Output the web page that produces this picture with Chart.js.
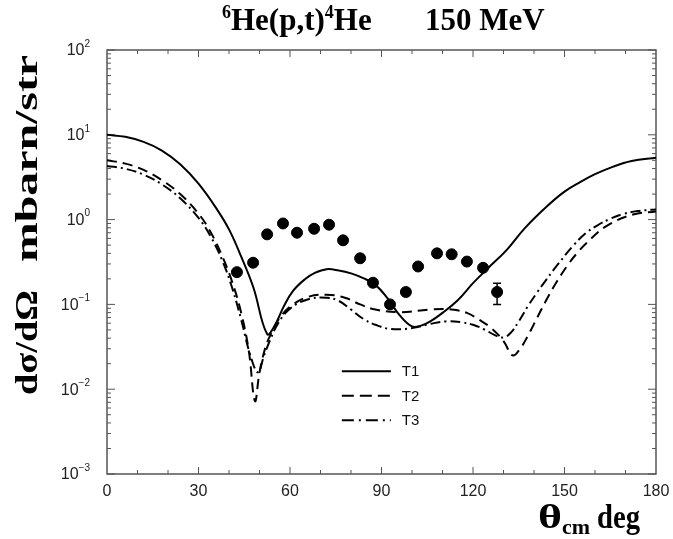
<!DOCTYPE html>
<html>
<head>
<meta charset="utf-8">
<script src="https://cdn.jsdelivr.net/npm/chart.js@4/dist/chart.umd.min.js"></script>
<style>
html, body { margin: 0; padding: 0; background: #fff; }
</style>
</head>
<body>
<canvas id="xsChart" width="673" height="539"></canvas>
<script>
// measured cross section (filled circles)
const dataAngle = [42.6, 47.9, 52.5, 57.7, 62.3, 67.9, 72.8, 77.4, 83.0, 87.2, 92.8, 98.0, 102.0, 108.2, 113.0, 118.0, 123.3, 127.9];
const dataValue = [0.24, 0.31, 0.67, 0.90, 0.70, 0.78, 0.87, 0.57, 0.35, 0.18, 0.10, 0.14, 0.28, 0.40, 0.39, 0.32, 0.27, 0.14];
const dataErrLow = [null, null, null, null, null, null, null, null, null, null, null, null, null, null, null, null, null, 0.10];
const dataErrHigh = [null, null, null, null, null, null, null, null, null, null, null, null, null, null, null, null, null, 0.177];

// T1 (solid)
const t1Angle = [0, 6, 12, 18, 24, 30, 36, 40, 44, 48, 52.5, 55, 58, 61, 65, 68, 72, 76, 80, 84, 88, 92, 96, 100, 103, 106, 110, 115, 120, 125, 131, 137, 144, 150, 155, 160, 166, 172, 180];
const t1Value = [10, 9.46, 8.24, 6.52, 4.49, 2.65, 1.33, 0.766, 0.366, 0.158, 0.0447, 0.0562, 0.0955, 0.1445, 0.1995, 0.234, 0.26, 0.251, 0.232, 0.204, 0.17, 0.1175, 0.0741, 0.055, 0.0562, 0.063, 0.0794, 0.112, 0.178, 0.269, 0.437, 0.794, 1.41, 2.14, 2.75, 3.43, 4.22, 4.9, 5.37];

// T2 (dashed)
const t2Angle = [0, 6, 12, 18, 24, 30, 34, 38, 41, 44, 46.5, 48.5, 50, 52, 54, 57, 61, 66, 72, 78, 83, 88, 96, 106, 113, 118, 122, 126, 130, 133, 135.5, 138, 141, 144, 147.5, 150.8, 154, 157.4, 164, 172.5, 180];
const t2Value = [5.01, 4.57, 3.85, 2.92, 2.0, 1.175, 0.708, 0.355, 0.186, 0.0794, 0.0282, 0.00724, 0.0158, 0.0316, 0.0468, 0.0724, 0.1, 0.123, 0.13, 0.12, 0.1, 0.087, 0.081, 0.087, 0.087, 0.0794, 0.066, 0.0525, 0.037, 0.025, 0.0302, 0.0427, 0.0692, 0.112, 0.186, 0.282, 0.398, 0.537, 0.851, 1.15, 1.245];

// T3 (dash-dot)
const t3Angle = [0, 6, 12, 18, 24, 30, 34, 38, 41, 44, 47, 49.5, 51.5, 53.5, 56, 60, 66, 72, 76, 80, 84, 88, 93, 100, 106, 111, 116, 120, 124, 127, 130, 132.5, 135, 138, 141, 144, 148, 152.8, 157, 160.7, 165, 169, 174, 180];
const t3Value = [4.3, 3.98, 3.39, 2.6, 1.78, 1.047, 0.631, 0.316, 0.158, 0.066, 0.0251, 0.0158, 0.0251, 0.038, 0.0589, 0.0891, 0.115, 0.12, 0.11, 0.087, 0.0676, 0.0575, 0.0513, 0.0525, 0.0589, 0.063, 0.0617, 0.0575, 0.0501, 0.0437, 0.0407, 0.0468, 0.0631, 0.0955, 0.138, 0.195, 0.302, 0.49, 0.692, 0.851, 1.023, 1.16, 1.26, 1.32];

// axis ticks
const xTicks = [0, 30, 60, 90, 120, 150, 180];
const yExponents = [-3, -2, -1, 0, 1, 2];
const legendNames = ['T1', 'T2', 'T3'];

const toPoints = (xs, ys) => xs.map((x, i) => ({ x: x, y: ys[i] }));

const serif = '"Liberation Serif", "Times New Roman", serif';
const sans = '"Liberation Sans", Arial, sans-serif';
const frameColor = '#555';
const dashT2 = [10, 6];
const dashT3 = [10, 4, 2, 4];

// draw text stretched to a given width (left aligned at x)
function fitText(ctx, text, x, y, width) {
    const w = ctx.measureText(text).width;
    ctx.save();
    ctx.translate(x, y);
    ctx.scale(width / w, 1);
    ctx.fillText(text, 0, 0);
    ctx.restore();
}

// frame, inward ticks, labels, titles, error bar and legend
const decorPlugin = {
    id: 'decor',
    beforeDatasetsDraw(chart) {
        const ctx = chart.ctx;
        const a = chart.chartArea;
        const xs = chart.scales.x;
        const ys = chart.scales.y;
        ctx.save();
        ctx.strokeStyle = frameColor;
        ctx.lineWidth = 1.5;
        ctx.strokeRect(a.left, a.top, a.right - a.left, a.bottom - a.top);
        ctx.lineWidth = 1;
        // x ticks every 10 deg
        for (let v = 10; v < 180; v += 10) {
            const px = xs.getPixelForValue(v);
            const len = v % 30 === 0 ? 7 : 4;
            ctx.beginPath();
            ctx.moveTo(px, a.bottom); ctx.lineTo(px, a.bottom - len);
            ctx.moveTo(px, a.top); ctx.lineTo(px, a.top + len);
            ctx.stroke();
        }
        // y log ticks
        yExponents.forEach(e => {
            for (let m = 1; m <= 9; m++) {
                const v = m * Math.pow(10, e);
                if (v >= 100 && m > 1) continue;
                const py = ys.getPixelForValue(v);
                const len = m === 1 ? 8 : 4;
                ctx.beginPath();
                ctx.moveTo(a.left, py); ctx.lineTo(a.left + len, py);
                ctx.moveTo(a.right, py); ctx.lineTo(a.right - len, py);
                ctx.stroke();
            }
        });
        ctx.restore();
    },
    afterDatasetsDraw(chart) {
        const ctx = chart.ctx;
        const a = chart.chartArea;
        const xs = chart.scales.x;
        const ys = chart.scales.y;
        ctx.save();

        // error bars
        ctx.strokeStyle = '#000';
        ctx.lineWidth = 1.5;
        dataAngle.forEach((x, i) => {
            if (dataErrLow[i] == null) return;
            const px = xs.getPixelForValue(x);
            const y1 = ys.getPixelForValue(dataErrLow[i]);
            const y2 = ys.getPixelForValue(dataErrHigh[i]);
            ctx.beginPath();
            ctx.moveTo(px, y1); ctx.lineTo(px, y2);
            ctx.moveTo(px - 4, y1); ctx.lineTo(px + 4, y1);
            ctx.moveTo(px - 4, y2); ctx.lineTo(px + 4, y2);
            ctx.stroke();
        });

        // x tick labels
        ctx.fillStyle = '#222';
        ctx.font = '16px ' + sans;
        ctx.textAlign = 'center';
        ctx.textBaseline = 'top';
        xTicks.forEach(v => ctx.fillText(String(v), xs.getPixelForValue(v), a.bottom + 10));

        // y tick labels 10^n
        ctx.textBaseline = 'middle';
        yExponents.forEach(e => {
            const py = ys.getPixelForValue(Math.pow(10, e));
            const exp = e < 0 ? '\u2212' + (-e) : String(e);
            ctx.font = '10px ' + sans;
            ctx.textAlign = 'left';
            const ew = ctx.measureText(exp).width;
            const right = a.left - 17;
            ctx.fillText(exp, right - ew, py - 6);
            ctx.font = '16px ' + sans;
            ctx.textAlign = 'right';
            ctx.fillText('10', right - ew, py + 1);
        });

        // legend
        const lx = xs.getPixelForValue(77);
        const ly = ys.getPixelForValue(0.0163);
        const dashes = [[], [12, 6], [12, 5, 2, 5]];
        ctx.lineWidth = 2;
        ctx.font = '15px ' + sans;
        ctx.textAlign = 'left';
        legendNames.forEach((name, i) => {
            const y = ly + i * 24.5;
            ctx.setLineDash(dashes[i]);
            ctx.beginPath();
            ctx.moveTo(lx, y); ctx.lineTo(lx + 49, y);
            ctx.stroke();
            ctx.setLineDash([]);
            ctx.fillStyle = '#111';
            ctx.fillText(name, lx + 60, y + 1);
        });

        // title with superscripts
        ctx.fillStyle = '#000';
        ctx.textBaseline = 'alphabetic';
        const big = 'bold 31px ' + serif;
        const small = 'bold 18px ' + serif;
        const parts = [['6', small, -12], ['He(p,t)', big, 0], ['4', small, -12], ['He', big, 0]];
        let tx = 222;
        parts.forEach(p => {
            ctx.font = p[1];
            ctx.fillText(p[0], tx, 30 + p[2]);
            tx += ctx.measureText(p[0]).width;
        });
        ctx.font = big;
        ctx.fillText('150 MeV', 425, 30);

        // y axis title (rotated)
        ctx.save();
        ctx.translate(37, 0);
        ctx.rotate(-Math.PI / 2);
        ctx.font = 'bold 31px ' + serif;
        ctx.textAlign = 'left';
        fitText(ctx, 'd\u03c3/d\u03a9', -395, 0, 105);
        fitText(ctx, 'mbarn/str', -262, 0, 207);
        ctx.restore();

        // x axis title
        ctx.textAlign = 'left';
        ctx.font = 'bold 34px ' + serif;
        fitText(ctx, '\u03b8', 538, 528, 24);
        ctx.font = 'bold 21px ' + serif;
        fitText(ctx, 'cm', 562, 534, 28);
        ctx.font = 'bold 34px ' + serif;
        fitText(ctx, 'deg', 597, 528, 43);

        ctx.restore();
    }
};

const curveStyle = {
    showLine: true,
    pointRadius: 0,
    borderColor: '#000',
    borderWidth: 2,
    tension: 0.4,
    fill: false
};

const config = {
    type: 'scatter',
    data: {
        datasets: [
            Object.assign({ label: 'T1', data: toPoints(t1Angle, t1Value) }, curveStyle),
            Object.assign({ label: 'T2', data: toPoints(t2Angle, t2Value), borderDash: dashT2 }, curveStyle),
            Object.assign({ label: 'T3', data: toPoints(t3Angle, t3Value), borderDash: dashT3 }, curveStyle),
            {
                label: 'data',
                data: toPoints(dataAngle, dataValue),
                pointRadius: 5.5,
                pointBackgroundColor: '#000',
                pointBorderColor: '#000',
                showLine: false
            }
        ]
    },
    options: {
        responsive: false,
        devicePixelRatio: 1,
        animation: false,
        layout: { padding: { left: 107, top: 50, right: 17, bottom: 65 } },
        plugins: {
            legend: { display: false },
            tooltip: { enabled: false }
        },
        scales: {
            x: { type: 'linear', min: 0, max: 180, display: false },
            y: { type: 'logarithmic', min: 0.001, max: 100, display: false }
        }
    },
    plugins: [decorPlugin]
};

new Chart(document.getElementById('xsChart').getContext('2d'), config);
</script>
</body>
</html>
